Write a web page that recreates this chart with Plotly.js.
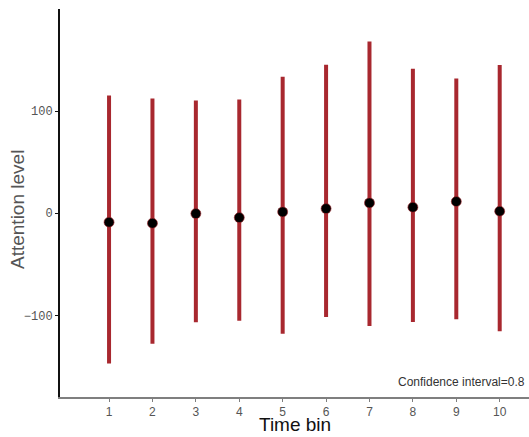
<!DOCTYPE html>
<html>
<head>
<meta charset="utf-8">
<script src="https://cdn.plot.ly/plotly-3.0.1.min.js"></script>
<style>
  html, body { margin: 0; padding: 0; background: #fff; }
  #chart { width: 529px; height: 437px; }
</style>
</head>
<body>
<div id="chart"></div>
<script>
// Mean attention level per time bin with its 80% confidence interval
const timeBins = [1, 2, 3, 4, 5, 6, 7, 8, 9, 10];
const meanLevel = [-8.8, -9.8, -0.4, -4.3, 1.3, 4.5, 10.1, 5.9, 11.4, 2.0];
const upperBound = [115.3, 112.4, 110.4, 111.4, 133.7, 145.5, 168.1, 141.6, 132.0, 145.1];
const lowerBound = [-147.2, -127.8, -106.9, -105.2, -118.0, -101.7, -110.5, -106.6, -103.9, -115.7];
const yTickVals = [-100, 0, 100];
const xTickLabels = ['1', '2', '3', '4', '5', '6', '7', '8', '9', '10'];

const errPlus = upperBound.map((u, i) => u - meanLevel[i]);
const errMinus = lowerBound.map((l, i) => meanLevel[i] - l);

const titleFont = 'Liberation Sans, Arial, sans-serif';

const trace = {
  type: 'scatter',
  mode: 'markers',
  x: timeBins,
  y: meanLevel,
  marker: { color: '#000000', size: 10, line: { color: '#a8282f', width: 0.6 } },
  error_y: {
    type: 'data',
    symmetric: false,
    array: errPlus,
    arrayminus: errMinus,
    color: '#a8282f',
    thickness: 4,
    width: 0
  },
  hoverinfo: 'x+y'
};

const layout = {
  width: 529,
  height: 437,
  margin: { l: 60, r: 0, t: 9, b: 40 },
  paper_bgcolor: '#ffffff',
  plot_bgcolor: '#ffffff',
  showlegend: false,
  xaxis: {
    range: [-0.13, 10.675],
    tickvals: timeBins,
    ticktext: xTickLabels,
    showgrid: false,
    zeroline: false,
    showline: true,
    linecolor: '#7f7f7f',
    linewidth: 1.5,
    ticks: 'outside',
    ticklen: 3,
    tickwidth: 1,
    tickcolor: '#7f7f7f',
    tickfont: { family: titleFont, size: 12, color: '#555555' }
  },
  yaxis: {
    range: [-180, 200],
    tickvals: yTickVals,
    showgrid: false,
    zeroline: false,
    showline: true,
    linecolor: '#111111',
    linewidth: 2,
    ticks: 'outside',
    ticklen: 3,
    tickwidth: 1,
    tickcolor: '#111111',
    tickfont: { family: 'Liberation Mono, monospace', size: 12, color: '#555555' }
  },
  annotations: [
    {
      // x axis title
      text: 'Time bin',
      xref: 'paper', yref: 'paper',
      x: 0.501, y: -0.0696,
      xanchor: 'center', yanchor: 'middle',
      showarrow: false,
      font: { family: titleFont, size: 19, color: '#111111' }
    },
    {
      // y axis title
      text: 'Attention level',
      xref: 'paper', yref: 'paper',
      x: -0.0917, y: 0.4845,
      xanchor: 'center', yanchor: 'middle',
      textangle: -90,
      showarrow: false,
      font: { family: titleFont, size: 19, color: '#555555' }
    },
    {
      text: 'Confidence interval=0.8',
      xref: 'paper', yref: 'paper',
      x: 0.995, y: 0.015,
      xanchor: 'right', yanchor: 'bottom',
      showarrow: false,
      font: { family: titleFont, size: 12, color: '#333333' }
    }
  ]
};

Plotly.newPlot('chart', [trace], layout, { displayModeBar: false, staticPlot: true });
</script>
</body>
</html>
